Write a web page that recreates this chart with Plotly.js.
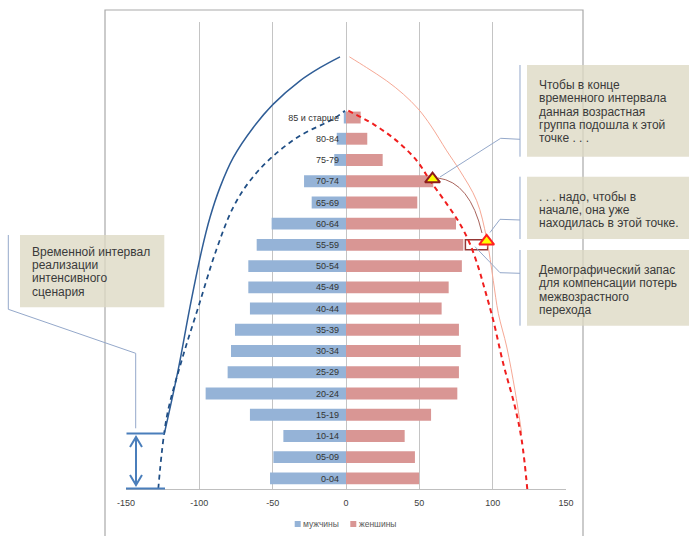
<!DOCTYPE html>
<html>
<head>
<meta charset="utf-8">
<script src="https://cdn.plot.ly/plotly-3.0.1.min.js"></script>
<style>html,body{margin:0;padding:0;background:#fff;}#chart{width:689px;height:536px;}</style>
</head>
<body>
<div id="chart"></div>
<script>
// ---------- data ----------
const ageGroups = ['0-04','05-09','10-14','15-19','20-24','25-29','30-34','35-39','40-44','45-49','50-54','55-59','60-64','65-69','70-74','75-79','80-84','85 и старше'];
const males   = [-51.8,-49.5,-42.7,-65.5,-95.7,-80.7,-78.4,-75.7,-65.5,-66.6,-66.6,-60.9,-50.7,-23.4,-28.6,-8.0,-6.3,-1.5];
const females = [49.8,47.0,40.0,58.0,75.9,77.0,78.2,77.0,65.2,70.0,79.0,80.0,75.0,48.6,59.5,25.0,14.5,10.0];

const xTicks = [-150,-100,-50,0,50,100,150];
const xTickText = ['-150','-100','-50','0','50','100','150'];

// curves (x value, category position)
const blueDashedX = [-128.0,-122.2,-112.0,-100.7,-88.2,-76.9,-65.5,-50.7,-31.4,-8.7,-0.7];
const blueDashedY = [-0.5,2.90,5.56,8.07,10.81,12.77,14.02,15.12,16.14,16.93,17.32];
const blueSolidX  = [-123.9,-114.5,-106.4,-98.4,-92.7,-85.9,-76.8,-63.2,-49.6,-31.4,-17.7,-4.1];
const blueSolidY  = [2.10,5.09,8.07,10.74,12.30,13.71,15.12,16.53,17.63,18.73,19.35,19.86];
const redDashedX  = [1.6,18.6,34.6,48.2,57.3,68.7,77.7,84.5,90.2,94.8,100.4,107.2,115.2,119.8,123.6];
const redDashedY  = [17.32,16.69,15.9,14.97,14.03,12.93,11.99,11.05,9.95,8.86,7.45,5.41,3.37,1.8,-0.5];
const lightX      = [2.3,14.1,27.7,39.1,49.3,58.0,68.7,77.7,89.1,95.9,100.4,103.9,109.6,115.2,119.8];
const lightY      = [19.86,19.35,18.73,18.10,17.40,16.60,15.43,14.49,13.08,11.30,9.33,7.76,6.19,4.15,2.12];

const pointEndX = [59.0],   pointEndY = [14.1];
const pointStartX = [95.9], pointStartY = [11.17];
const reserveX = [81.4, 96.6], reserveY = [10.77, 11.24];

const legendNames = ['мужчины','женшины'];

const box1Lines = ['Чтобы в конце','временного интервала','данная возрастная','группа подошла к этой','точке . . .'];
const box2Lines = ['. . . надо, чтобы в','начале, она уже','находилась в этой точке.'];
const box3Lines = ['Демографический запас','для компенсации потерь','межвозрастного','перехода'];
const box4Lines = ['Временной интервал','реализации','интенсивного','сценария'];

// ---------- layout helpers (pixel -> paper) ----------
const W = 689, H = 536;
const mL = 126, mR = 123, mT = 22, mB = 47;
const pw = W - mL - mR, ph = H - mT - mB;
const X = px => (px - mL) / pw;
const Y = py => (H - mB - py) / ph;
const P = (px, py) => X(px).toFixed(5) + ',' + Y(py).toFixed(5);

const maleC = '#95B3D7', femaleC = '#D99694';
const blueC = '#4A7EBB', calloutC = '#94A8CA';
const boxFill = 'rgba(221,217,195,0.78)';

const traces = [
  {type:'bar', orientation:'h', y: ageGroups.map((_,i)=>i), x: males, name: legendNames[0],
   marker:{color:maleC}, showlegend:false, hoverinfo:'skip'},
  {type:'bar', orientation:'h', y: ageGroups.map((_,i)=>i), x: females, name: legendNames[1],
   marker:{color:femaleC}, showlegend:false, hoverinfo:'skip'},
  {type:'scatter', mode:'lines', x: blueSolidX, y: blueSolidY, line:{color:'#2F5D96', width:1.5, shape:'spline'}, showlegend:false, hoverinfo:'skip'},
  {type:'scatter', mode:'lines', x: blueDashedX, y: blueDashedY, line:{color:'#1F4E85', width:1.75, dash:'5px,4px', shape:'spline'}, showlegend:false, hoverinfo:'skip'},
  {type:'scatter', mode:'lines', x: lightX, y: lightY, line:{color:'#F6A895', width:1, shape:'spline'}, showlegend:false, hoverinfo:'skip'},
  {type:'scatter', mode:'lines', x: redDashedX, y: redDashedY, line:{color:'#F01E1E', width:2, dash:'5px,4px', shape:'spline'}, showlegend:false, hoverinfo:'skip'},
  {type:'scatter', mode:'markers', x: pointEndX, y: pointEndY, marker:{symbol:'triangle-up', size:13, color:'#FFFF00', line:{color:'#8E1B1B', width:2}}, showlegend:false, hoverinfo:'skip'},
  {type:'scatter', mode:'markers', x: pointStartX, y: pointStartY, marker:{symbol:'triangle-up', size:13, color:'#FFFF00', line:{color:'#FF2020', width:2}}, showlegend:false, hoverinfo:'skip'}
];

const shapes = [];
// outer chart border
shapes.push({type:'rect', xref:'paper', yref:'paper', x0:X(105), x1:X(583), y0:Y(10), y1:Y(548), line:{color:'#A9A9A9', width:1.2}, fillcolor:'rgba(0,0,0,0)', layer:'below'});
// reserve rectangle
shapes.push({type:'rect', xref:'x', yref:'y', x0:reserveX[0], x1:reserveX[1], y0:reserveY[0], y1:reserveY[1], line:{color:'#953735', width:1.5}, fillcolor:'#FFFFFF', layer:'below'});
// brown connector between the two triangles
shapes.push({type:'path', xref:'paper', yref:'paper', path:'M'+P(438,178)+' Q'+P(470,182)+' '+P(482,233), line:{color:'#A8635C', width:1}});
// bracket lines + double arrow
shapes.push({type:'line', xref:'paper', yref:'paper', x0:X(126.5), x1:X(164.3), y0:Y(433.5), y1:Y(433.5), line:{color:blueC, width:2}});
shapes.push({type:'line', xref:'paper', yref:'paper', x0:X(126), x1:X(165), y0:Y(488.5), y1:Y(488.5), line:{color:blueC, width:2}});
shapes.push({type:'path', xref:'paper', yref:'paper',
  path:'M'+P(136,437)+' L'+P(136,485)+' M'+P(130,447)+' L'+P(136,437)+' L'+P(142,447)+' M'+P(130,475)+' L'+P(136,485)+' L'+P(142,475),
  line:{color:blueC, width:2}});
// callout boxes
const boxes = [[527,700,65,156.7],[527,700,176.7,239],[527,700,250,325.7],[20,164.3,235,307.3]];
boxes.forEach(b => shapes.push({type:'rect', xref:'paper', yref:'paper', x0:X(b[0]), x1:X(b[1]), y0:Y(b[2]), y1:Y(b[3]), fillcolor:boxFill, line:{width:0}}));
// callout leader lines
const leaders = [
  'M'+P(520,65)+' L'+P(520,156.7)+' M'+P(520,139.3)+' L'+P(500.7,138.3)+' L'+P(440,177),
  'M'+P(520,176.7)+' L'+P(520,239)+' M'+P(520,220)+' L'+P(500,219.3)+' L'+P(490,232.5),
  'M'+P(520,250)+' L'+P(520,325.7)+' M'+P(520,273.3)+' L'+P(500,272.7)+' L'+P(475,246.7),
  'M'+P(8.3,235)+' L'+P(8.3,309.3)+' L'+P(135.7,353.3)+' L'+P(135.7,428.3)
];
leaders.forEach(p => shapes.push({type:'path', xref:'paper', yref:'paper', path:p, line:{color:calloutC, width:1}}));
// legend swatches
[[297.7, maleC],[353.3, femaleC]].forEach(s => shapes.push({type:'rect', xref:'paper', yref:'paper',
  x0:X(s[0]-3), x1:X(s[0]+3), y0:Y(521), y1:Y(527), fillcolor:s[1], line:{width:0}}));

// text annotations
const annotations = [];
function addLines(lines, px, pyStart){
  lines.forEach((t,i)=>annotations.push({xref:'paper', yref:'paper', x:X(px), y:Y(pyStart + i*13.33), xanchor:'left', yanchor:'middle',
    text:t, showarrow:false, font:{family:'Liberation Sans, Arial, sans-serif', size:12, color:'#3A3A3A'}}));
}
addLines(box1Lines, 537, 85);
addLines(box2Lines, 536.5, 196.7);
addLines(box3Lines, 537, 270);
addLines(box4Lines, 30, 251.7);
// legend labels
[[301, legendNames[0]],[357, legendNames[1]]].forEach(l => annotations.push({xref:'paper', yref:'paper', x:X(l[0]), y:Y(524),
  xanchor:'left', yanchor:'middle', text:l[1], showarrow:false, font:{size:8.5, color:'#595959'}}));

const layout = {
  width: W, height: H,
  margin:{l:mL, r:mR, t:mT, b:mB, pad:0},
  paper_bgcolor:'#FFFFFF', plot_bgcolor:'#FFFFFF',
  font:{family:'Liberation Sans, Arial, sans-serif', size:9, color:'#404040'},
  barmode:'relative', bargap:0.44,
  xaxis:{range:[-150,150], tickvals:xTicks, ticktext:xTickText, showgrid:true, gridcolor:'#C4C4C4', gridwidth:1,
         zeroline:true, zerolinecolor:'#C4C4C4', zerolinewidth:1, showline:true, linecolor:'#BFBFBF', linewidth:1,
         ticks:'', ticklabelstandoff:5, tickfont:{size:9, color:'#404040'}, fixedrange:true},
  yaxis:{range:[-0.5,21.5], tickvals:ageGroups.map((_,i)=>i), ticktext:ageGroups, anchor:'free', position:0.5,
         showgrid:false, zeroline:false, showline:false, ticks:'', ticklabelstandoff:7,
         tickfont:{size:9, color:'#333333'}, fixedrange:true},
  showlegend:false,
  shapes: shapes,
  annotations: annotations
};

Plotly.newPlot('chart', traces, layout, {displayModeBar:false, staticPlot:true});
</script>
</body>
</html>
